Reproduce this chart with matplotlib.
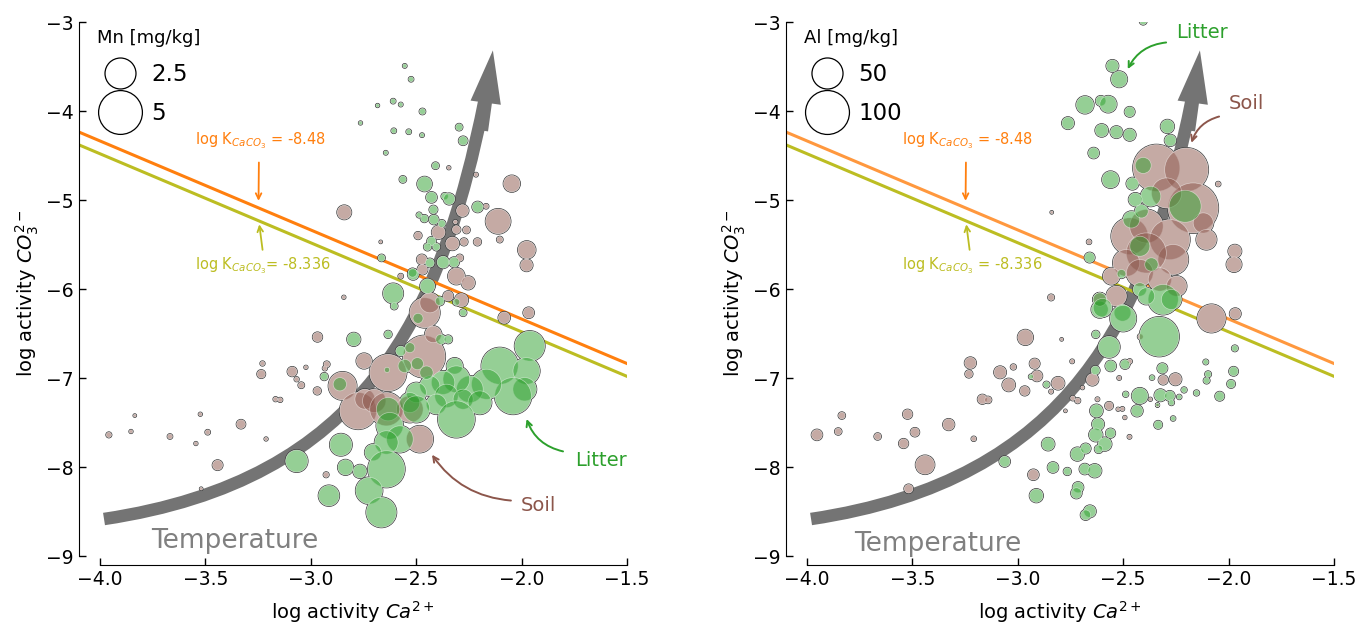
import numpy as np
import matplotlib
matplotlib.use("Agg")
import matplotlib.pyplot as plt
from matplotlib.path import Path
from matplotlib.patches import PathPatch, FancyArrowPatch
from matplotlib.lines import Line2D

plt.rcParams['font.family'] = ['DejaVu Sans']

# ---- Mn panel (left) ----
# soil
mn_soil_x = [-3.958, -3.853, -3.835, -3.668, -3.545, -3.524, -3.489, -3.442, -3.520, -3.331,
             -3.212, -3.167, -3.145, -3.229, -3.235, -3.088, -3.067, -3.045, -3.023, -2.969,
             -2.968, -2.927, -2.924, -2.933, -2.843, -2.849, -2.775, -2.747, -2.743, -2.699,
             -2.641, -2.633, -2.530, -2.483, -2.462, -2.459, -2.435, -2.419, -2.348, -2.285,
             -2.309, -2.253, -2.573, -2.470, -2.473, -2.293, -2.328, -2.273, -2.209, -2.103,
             -2.491, -2.394, -2.309, -2.261, -2.314, -2.280, -2.168, -2.111, -2.046, -2.216,
             -2.345, -2.841, -2.668, -1.975, -1.976, -1.966, -2.082]
mn_soil_y = [-7.638, -7.600, -7.421, -7.656, -7.735, -7.406, -7.608, -7.978, -8.243, -7.518,
             -7.684, -7.237, -7.245, -6.836, -6.955, -6.927, -7.013, -7.080, -6.879, -7.144,
             -6.539, -8.086, -6.845, -6.890, -6.092, -7.088, -7.368, -6.808, -7.237, -7.256,
             -7.349, -6.939, -7.349, -7.686, -6.759, -6.266, -6.154, -6.509, -6.079, -6.124,
             -5.855, -5.930, -5.855, -5.780, -5.668, -5.650, -5.489, -5.470, -5.470, -5.444,
             -5.399, -5.362, -5.332, -5.336, -5.246, -5.119, -5.070, -5.239, -4.816, -4.715,
             -4.637, -5.138, -5.470, -5.560, -5.732, -6.266, -6.322]
mn_soil_v = [0.07, 0.03, 0.02, 0.06, 0.03, 0.03, 0.06, 0.26, 0.02, 0.20,
             0.03, 0.05, 0.05, 0.05, 0.17, 0.23, 0.05, 0.09, 0.03, 0.14,
             0.23, 0.07, 0.09, 0.05, 0.03, 2.04, 3.50, 0.61, 1.04, 1.42,
             2.90, 3.50, 1.85, 1.85, 4.60, 2.34, 1.04, 0.72, 0.26, 0.46,
             0.72, 0.46, 0.06, 0.26, 0.26, 0.12, 0.46, 0.14, 0.14, 0.09,
             0.14, 0.46, 0.17, 0.12, 0.04, 0.38, 0.06, 1.60, 0.70, 0.04,
             0.03, 0.51, 0.02, 0.80, 0.38, 0.30, 0.35]
# litter
mn_lit_x = [-2.554, -2.524, -2.609, -2.573, -2.683, -2.470, -2.764, -2.296, -2.606, -2.535,
            -2.472, -2.644, -2.277, -2.408, -2.563, -2.460, -2.427, -2.364, -2.343, -2.208,
            -2.486, -2.418, -2.461, -2.416, -2.378, -2.427, -2.446, -2.404, -2.664, -2.435,
            -2.372, -2.320, -2.514, -2.446, -2.517, -2.609, -2.604, -2.388, -2.309, -2.277,
            -2.796, -2.633, -2.491, -2.383, -2.348, -2.573, -2.530, -2.494, -2.554, -2.936,
            -2.862, -2.638, -2.317, -1.961, -2.103, -1.977, -1.985, -2.040, -2.166, -2.245,
            -2.309, -2.372, -2.435, -2.499, -2.530, -2.356, -2.277, -2.404, -2.198, -2.309,
            -2.499, -2.633, -2.625, -2.577, -2.641, -2.704, -2.641, -2.723, -2.665, -2.835,
            -2.767, -2.857, -3.067, -2.914, -2.451]
mn_lit_y = [-3.493, -3.643, -3.889, -3.927, -3.938, -4.005, -4.134, -4.181, -4.222, -4.233,
            -4.271, -4.469, -4.334, -4.614, -4.768, -4.820, -4.970, -4.958, -4.988, -5.078,
            -5.168, -5.108, -5.208, -5.220, -5.265, -5.463, -5.526, -5.526, -5.650, -5.706,
            -5.698, -5.698, -5.836, -5.967, -5.817, -6.049, -6.191, -6.135, -6.146, -6.266,
            -6.565, -6.509, -6.329, -6.565, -6.565, -6.696, -6.658, -6.838, -6.864, -6.983,
            -7.069, -6.908, -6.864, -6.640, -6.864, -6.920, -7.125, -7.200, -7.069, -7.125,
            -7.013, -7.051, -7.088, -7.163, -7.275, -7.200, -7.237, -7.293, -7.275, -7.462,
            -7.349, -7.349, -7.536, -7.686, -7.723, -7.835, -8.022, -8.265, -8.508, -8.003,
            -8.048, -7.749, -7.932, -8.321, -6.939]
mn_lit_v = [0.04, 0.06, 0.06, 0.04, 0.03, 0.09, 0.03, 0.12, 0.06, 0.06,
            0.04, 0.04, 0.20, 0.12, 0.12, 0.56, 0.30, 0.12, 0.33, 0.30,
            0.07, 0.17, 0.14, 0.23, 0.14, 0.20, 0.14, 0.14, 0.12, 0.20,
            0.38, 0.26, 0.30, 0.56, 0.20, 1.04, 0.12, 0.20, 0.12, 0.12,
            0.46, 0.14, 0.26, 0.26, 0.17, 0.26, 0.26, 0.38, 0.46, 0.14,
            0.46, 0.07, 0.67, 2.34, 3.50, 1.85, 1.42, 3.50, 2.34, 1.85,
            1.85, 1.42, 1.04, 1.04, 1.04, 1.42, 1.04, 1.04, 1.42, 3.50,
            1.85, 1.42, 1.85, 1.85, 1.42, 0.72, 3.50, 1.85, 2.34, 0.61,
            0.46, 1.26, 1.26, 1.10, 0.46]

# ---- Al panel (right) ----
al_soil_x = [-3.953, -3.852, -3.835, -3.665, -3.542, -3.523, -3.488, -3.440, -3.518, -3.328,
             -3.209, -3.168, -3.141, -3.225, -3.232, -3.084, -3.043, -3.021, -2.964, -2.967,
             -2.920, -2.909, -2.809, -2.842, -2.742, -2.693, -2.739, -2.716, -2.774, -2.646,
             -2.622, -2.567, -2.519, -2.524, -2.504, -2.492, -2.470, -2.469, -2.418, -2.310,
             -2.252, -2.371, -2.337, -2.926, -2.792, -2.081, -1.968, -2.049, -2.839, -2.662,
             -2.842, -1.970, -1.974,
             -2.342, -2.200, -2.168, -2.294, -2.120, -2.105, -2.469, -2.390, -2.279, -2.263,
             -2.390, -2.485, -2.556, -2.421, -2.326, -2.247, -2.532, -2.611]
al_soil_y = [-7.638, -7.600, -7.421, -7.656, -7.735, -7.406, -7.608, -7.974, -8.243, -7.522,
             -7.682, -7.238, -7.245, -6.830, -6.954, -6.935, -7.077, -6.875, -6.543, -7.144,
             -6.838, -6.976, -7.058, -7.152, -6.812, -7.107, -7.226, -7.253, -7.368, -7.017,
             -7.238, -7.312, -6.999, -7.350, -7.346, -7.443, -7.660, -6.812, -6.535, -7.021,
             -7.013, -7.238, -7.305, -8.086, -6.565, -6.330, -6.277, -4.820, -5.138, -5.470,
             -6.094, -5.575, -5.724,
             -4.640, -4.659, -5.089, -4.921, -5.257, -5.444, -5.406, -5.294, -5.444, -5.668,
             -5.594, -5.706, -5.855, -5.818, -5.892, -5.967, -6.079, -6.117]
al_soil_v = [5.9, 2.3, 2.3, 2.3, 4.5, 4.5, 3.9, 18.2, 3.9, 6.7,
             1.1, 4.5, 2.3, 6.7, 2.8, 7.5, 8.4, 1.5, 12.2, 4.5,
             5.2, 5.9, 8.4, 0.8, 0.8, 0.6, 1.1, 1.5, 0.4, 7.5,
             0.8, 3.3, 0.8, 0.6, 0.8, 0.6, 0.8, 1.1, 1.5, 4.5,
             7.5, 0.6, 0.6, 5.9, 0.4, 40.8, 6.3, 1.1, 0.4, 1.1,
             1.9, 8.8, 11.7,
             113, 98, 130, 47, 21, 21, 70, 58, 83, 47,
             83, 37, 14.5, 37, 28, 21, 21, 9.3]
# litter
al_lit_x = [-2.405, -2.551, -2.519, -2.681, -2.606, -2.571, -2.469, -2.762, -2.602, -2.532,
            -2.469, -2.290, -2.276, -2.640, -2.560, -2.456, -2.405, -2.659, -2.508, -2.611,
            -2.206, -2.369, -2.442, -2.461, -2.413, -2.421, -2.366, -2.310, -2.421, -2.271,
            -2.390, -2.503, -2.611,
            -3.062, -2.856, -2.833, -2.765, -2.912, -2.717, -2.678, -2.682, -2.635, -2.714,
            -2.722, -2.658, -2.678, -2.627, -2.619, -2.630, -2.587, -2.616, -2.560, -2.630,
            -2.567, -2.559, -2.632, -2.864, -2.937, -2.598, -2.500, -2.329, -2.491, -2.488,
            -2.434, -2.421, -2.314, -2.363, -2.323, -2.279, -2.334, -2.263, -2.234, -2.211,
            -2.152, -2.337, -2.271, -1.970, -2.108, -2.097, -2.104, -1.976, -1.988, -2.042]
al_lit_y = [-2.990, -3.493, -3.643, -3.931, -3.886, -3.923, -4.009, -4.136, -4.218, -4.237,
            -4.267, -4.173, -4.330, -4.472, -4.771, -4.816, -4.611, -5.646, -5.829, -6.229,
            -5.070, -4.958, -4.995, -5.220, -5.126, -5.519, -5.724, -6.117, -6.004, -6.117,
            -6.079, -6.266, -6.117,
            -7.937, -7.742, -8.004, -8.049, -8.321, -7.854, -7.791, -8.022, -8.041, -8.228,
            -8.292, -8.497, -8.538, -7.368, -7.518, -7.637, -7.742, -7.798, -7.619, -6.509,
            -6.651, -6.864, -6.913, -7.073, -6.984, -6.210, -6.330, -6.535, -6.845, -7.182,
            -7.368, -7.200, -6.890, -6.995, -7.193, -7.200, -7.525, -7.454, -7.212, -7.133,
            -7.167, -7.301, -7.275, -6.666, -6.819, -6.957, -7.028, -6.924, -7.066, -7.204]
al_lit_v = [2.6, 7.5, 13.3, 15.6, 5.2, 14.5, 5.2, 7.5, 8.4, 7.5,
            7.5, 9.3, 6.7, 5.9, 14.5, 7.5, 13.3, 5.2, 3.9, 14.5,
            53, 20.8, 9.3, 14.5, 9.3, 20.8, 9.3, 46.9, 9.3, 20.8,
            14.5, 14.5, 9.3,
            5.9, 8.4, 5.9, 2.8, 9.3, 9.3, 5.2, 5.9, 9.3, 5.9,
            5.9, 7.5, 5.2, 8.4, 7.5, 9.3, 9.3, 3.3, 4.5, 2.8,
            23.7, 5.9, 3.9, 1.9, 1.1, 18.2, 35, 80.6, 4.5, 1.5,
            6.7, 13.3, 5.2, 1.1, 7.5, 5.2, 3.3, 1.1, 1.1, 1.5,
            1.5, 0.6, 1.5, 1.9, 1.3, 1.9, 1.9, 4.2, 3.3, 4.2]

# log K lines (drawn value, label shown next to it)
line_logk = [-8.336, -8.48]
label_logk = ['-8.48', '-8.336']

# temperature arrow (bezier control points + tip)
temp_curve = [(-3.981, -8.583), (-2.748, -8.146), (-2.383, -6.33), (-2.174, -3.863)]
temp_tip = (-2.134, -3.288)

soil_col = '#8c564b'
lit_col = '#2ca02c'
orange = '#ff7f0e'
olive = '#bcbd22'
grey_arrow = '#747474'


def panel(ax, sx, sy, sv, lx, ly, lv, k, title, leg_vals, leg_labels, orange_alpha,
          litter_txt, litter_arrow, litter_rad, soil_txt, soil_arrow, soil_rad, temp_xy,
          olive_eq):
    ax.set_xlim(-4.1, -1.5)
    ax.set_ylim(-9.1, -3)

    # log K lines
    xs = np.array([-4.1, -1.5])
    ax.plot(xs, line_logk[0] - xs, color=orange, lw=2.2, alpha=orange_alpha, zorder=2)
    ax.plot(xs, line_logk[1] - xs, color=olive, lw=2.2, zorder=2)
    ax.text(-3.55, -4.334, r'log K$_{CaCO_3}$ = ' + label_logk[0], color=orange,
            fontsize=10.5, ha='left', va='center')
    ax.text(-3.55, -5.735, r'log K$_{CaCO_3}$' + olive_eq + label_logk[1], color=olive,
            fontsize=10.5, ha='left', va='center')
    ax.annotate('', xy=(-3.248, -5.04), xytext=(-3.246, -4.547),
                arrowprops=dict(arrowstyle='->', color=orange, lw=1.3))
    ax.annotate('', xy=(-3.246, -5.242), xytext=(-3.227, -5.59),
                arrowprops=dict(arrowstyle='->', color=olive, lw=1.3))

    # temperature arrow
    body = Path(temp_curve, [Path.MOVETO, Path.CURVE4, Path.CURVE4, Path.CURVE4])
    ax.add_patch(PathPatch(body, fill=False, lw=9, edgecolor=grey_arrow,
                           capstyle='butt', zorder=1.5))
    head = FancyArrowPatch((-2.19, -4.25), temp_tip,
                           arrowstyle='simple,head_length=3.8,head_width=2.2,tail_width=0.9',
                           mutation_scale=10, color=grey_arrow, lw=0, zorder=1.5)
    ax.add_patch(head)
    ax.text(temp_xy[0], temp_xy[1], 'Temperature', fontsize=19, color='#808080',
            ha='center', va='center')

    # bubbles: dark silhouette, white base, then translucent colours
    ax_ = np.r_[sx, lx]
    ay_ = np.r_[sy, ly]
    as_ = k * np.r_[sv, lv]
    ax.scatter(ax_, ay_, s=as_, color='#333333', edgecolors='#333333', linewidths=1.3, zorder=3)
    ax.scatter(ax_, ay_, s=as_, color='white', linewidths=0, zorder=3.1)
    ax.scatter(sx, sy, s=k * np.array(sv), color=soil_col, alpha=0.5,
               edgecolors='white', linewidths=0.5, zorder=3.2)
    ax.scatter(lx, ly, s=k * np.array(lv), color=lit_col, alpha=0.5,
               edgecolors='white', linewidths=0.5, zorder=3.3)

    # Litter / Soil labels
    ax.text(litter_txt[0], litter_txt[1], 'Litter', color=lit_col, fontsize=14,
            ha='center', va='center')
    ax.annotate('', xy=litter_arrow[1], xytext=litter_arrow[0],
                arrowprops=dict(arrowstyle='->', color=lit_col, lw=1.4,
                                connectionstyle='arc3,rad=%s' % litter_rad))
    ax.text(soil_txt[0], soil_txt[1], 'Soil', color=soil_col, fontsize=14,
            ha='center', va='center')
    ax.annotate('', xy=soil_arrow[1], xytext=soil_arrow[0],
                arrowprops=dict(arrowstyle='->', color=soil_col, lw=1.4,
                                connectionstyle='arc3,rad=%s' % soil_rad))

    # size legend
    handles = [Line2D([], [], ls='', marker='o', markersize=np.sqrt(k * v),
                      mfc='none', mec='black', mew=0.9) for v in leg_vals]
    ax.legend(handles, leg_labels, title=title, loc='upper left',
              bbox_to_anchor=(0.021, 1.0), frameon=False, fontsize=16.5,
              title_fontsize=13, borderaxespad=0, borderpad=0.3,
              labelspacing=0.7, handletextpad=0.35, alignment='left')

    # axes styling
    ax.set_xticks([-4.0, -3.5, -3.0, -2.5, -2.0, -1.5])
    ax.set_yticks([-9, -8, -7, -6, -5, -4, -3])
    ax.tick_params(direction='in', length=5, width=1, labelsize=13.5)
    for side in ['top', 'right']:
        ax.spines[side].set_visible(False)
    ax.spines['left'].set_bounds(-9, -3)
    ax.spines['bottom'].set_bounds(-4, -1.5)
    ax.set_xlabel(r'log activity $Ca^{2+}$', fontsize=14, labelpad=7)
    ax.set_ylabel(r'log activity $CO_3^{2-}$', fontsize=14)


fig = plt.figure(figsize=(13.61, 6.22), dpi=100)
ax1 = fig.add_axes([0.058, 0.0916, 0.4026, 0.873])
ax2 = fig.add_axes([0.5775, 0.0916, 0.4026, 0.873])

panel(ax1, mn_soil_x, mn_soil_y, mn_soil_v, mn_lit_x, mn_lit_y, mn_lit_v, 199,
      'Mn [mg/kg]', [2.5, 5], ['2.5', '5'], 1.0,
      (-1.624, -7.93), ((-1.79, -7.83), (-1.98, -7.43)), -0.3,
      (-1.918, -8.43), ((-2.037, -8.378), (-2.432, -7.835)), -0.25,
      (-3.36, -8.826), '= ')
panel(ax2, al_soil_x, al_soil_y, al_soil_v, al_lit_x, al_lit_y, al_lit_v, 10,
      'Al [mg/kg]', [50, 100], ['50', '100'], 0.8,
      (-2.124, -3.12), ((-2.283, -3.227), (-2.484, -3.557)), 0.3,
      (-1.913, -3.92), ((-2.032, -4.054), (-2.18, -4.387)), 0.3,
      (-3.38, -8.86), ' = ')

fig.savefig('out.png', dpi=100)
